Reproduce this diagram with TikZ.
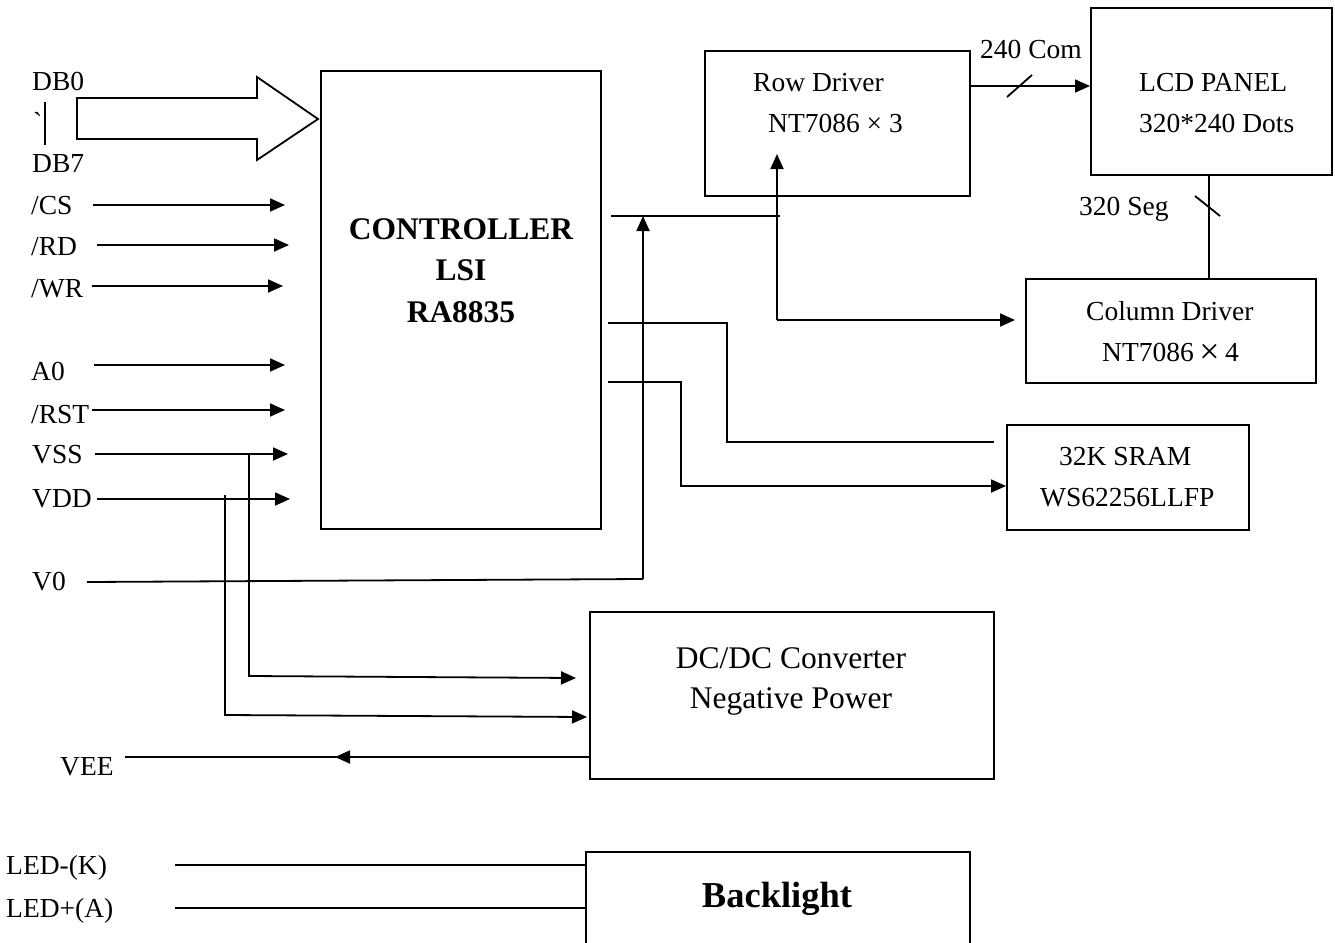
\documentclass[tikz,border=0pt]{standalone}
\usepackage{fontspec}
\setmainfont{Liberation Serif}
\usetikzlibrary{arrows.meta,calc}
\newcommand{\ntxt}{\fontsize{27.5}{33}\selectfont}
\newcommand{\btxt}{\fontsize{31.5}{38}\selectfont\bfseries}
\newcommand{\dtxt}{\fontsize{31.5}{38}\selectfont}
\newcommand{\bltxt}{\fontsize{36.5}{44}\selectfont\bfseries}
\begin{document}
\begin{tikzpicture}[x=1pt,y=-1pt,
  box/.style={draw,line width=1.8pt,inner sep=0pt,anchor=north west},
  lbl/.style={inner sep=0pt,anchor=base west,font=\ntxt},
  ctrb/.style={inner sep=0pt,anchor=base,font=\btxt},
  ctrd/.style={inner sep=0pt,anchor=base,font=\dtxt},
  ln/.style={line width=1.8pt},
  arr/.style={line width=1.8pt,-{Triangle[length=15pt,width=13pt]}},
]
\useasboundingbox (0,0) rectangle (1335,942);

% ---- boxes ----
\node[box,minimum width=280pt,minimum height=458pt] (ctrl) at (320,70) {};
\node[box,minimum width=265pt,minimum height=145pt] (rowdrv) at (704,50) {};
\node[box,minimum width=241pt,minimum height=167pt] (lcd) at (1090,7) {};
\node[box,minimum width=290pt,minimum height=104pt] (coldrv) at (1025,278) {};
\node[box,minimum width=242pt,minimum height=105pt] (sram) at (1006,424) {};
\node[box,minimum width=404pt,minimum height=167pt] (dcdc) at (589,611) {};
\node[box,minimum width=384pt,minimum height=100pt] (back) at (585,851) {};

% ---- box texts ----
\node[ctrb] (ct1) at (461,239) {CONTROLLER};
\node[ctrb] (ct2) at (461,280) {LSI};
\node[ctrb] (ct3) at (461,322) {RA8835};
\node[lbl] (rd1) at (753,91) {Row Driver};
\node[lbl] (rd2) at (768,132) {NT7086 × 3};
\node[lbl] (lc1) at (1139,91) {LCD PANEL};
\node[lbl] (lc2) at (1139,132) {320*240 Dots};
\node[lbl] (cd1) at (1086,320) {Column Driver};
\node[lbl] (cd2) at (1102,361) {NT7086\hspace{0.2em}\raisebox{-0.09em}{\scalebox{1.3}{×}}\hspace{0.2em}4};
\node[lbl] (sr1) at (1059,465) {32K SRAM};
\node[lbl] (sr2) at (1040,506) {WS62256LLFP};
\node[ctrd] (dc1) at (791,668) {DC/DC Converter};
\node[ctrd] (dc2) at (791,708) {Negative Power};
\node[inner sep=0pt,anchor=base,font=\bltxt] (bl) at (777,907) {Backlight};
\node[lbl] (com) at (980,59) {240 Com};
\node[lbl] (seg) at (1079,215) {320 Seg};

% ---- left labels ----
\node[lbl] (db0) at (32,90) {DB0};
\node[lbl] (dbt) at (33,131) {\textasciigrave};
\node[lbl] (db7) at (32,172) {DB7};
\node[lbl] (cs) at (31,214) {/CS};
\node[lbl] (rd) at (31,255) {/RD};
\node[lbl] (wr) at (31,297) {/WR};
\node[lbl] (a0) at (31,380) {A0};
\node[lbl] (rst) at (31,423) {/RST};
\node[lbl] (vss) at (32,463) {VSS};
\node[lbl] (vdd) at (32,507) {VDD};
\node[lbl] (v0) at (32,590) {V0};
\node[lbl] (vee) at (60,775) {VEE};
\node[lbl] (ledk) at (6,874) {LED-(K)};
\node[lbl] (leda) at (6,917) {LED+(A)};

% ---- named free ends ----
\coordinate (dbtip) at ($(ctrl.west |- 0,119)+(-2,0)$);
\coordinate (vsstip) at ($(dcdc.west |- 0,678)+(-13,0)$);
\coordinate (vddtip) at ($(dcdc.west |- 0,717)+(-2,0)$);
\coordinate (veeend) at (125,757);

% ---- data bus arrow ----
\draw[ln] (45,102) -- (45,145);
\draw[line width=1.8pt,line join=miter] (77,98) -- (257,98) -- (257,77) -- (dbtip) -- (257,160) -- (257,139) -- (77,139) -- cycle;

% ---- control inputs ----
\draw[arr] (93,205) -- (285,205);
\draw[arr] (97,245) -- (289,245);
\draw[arr] (92,286) -- (283,286);
\draw[arr] (94,365) -- (285,365);
\draw[arr] (92,410) -- (285,410);
\draw[arr] (95,454) -- (288,454);
\draw[arr] (97,499) -- (290,499);

% ---- power branches to DC/DC ----
\draw[arr] (249,454) -- (249,676) -- (vsstip);
\draw[arr] (225,495) -- (225,715) -- (vddtip);
\draw[arr] (dcdc.west |- 0,757) -- (335,757);
\draw[ln] (340,757) -- (veeend);

% ---- V0 ----
\draw[ln] (87,582) -- (643,579);
\draw[arr] (643,579) -- (643,216);

% ---- controller to drivers ----
\draw[ln] (611,216) -- (780,216);
\draw[arr] (777,320) -- (777,154);
\draw[arr] (777,320) -- ($(coldrv.west |- 0,320)+(-10,0)$);

% ---- controller to SRAM ----
\draw[ln] (608,323) -- (727,323) -- (727,442) -- ($(sram.west |- 0,442)+(-12,0)$);
\draw[arr] (608,382) -- (681,382) -- (681,486) -- (sram.west |- 0,486);

% ---- row driver to LCD, LCD to column driver ----
\draw[arr] (rowdrv.east |- 0,86) -- (lcd.west |- 0,86);
\draw[ln] (1007,97) -- (1032,75);
\draw[ln] (lcd.south -| 1209,0) -- (coldrv.north -| 1209,0);
\draw[ln] (1195,196) -- (1220,216);

% ---- backlight ----
\draw[ln] (175,865) -- (back.west |- 0,865);
\draw[ln] (175,908) -- (back.west |- 0,908);
\end{tikzpicture}
\end{document}
